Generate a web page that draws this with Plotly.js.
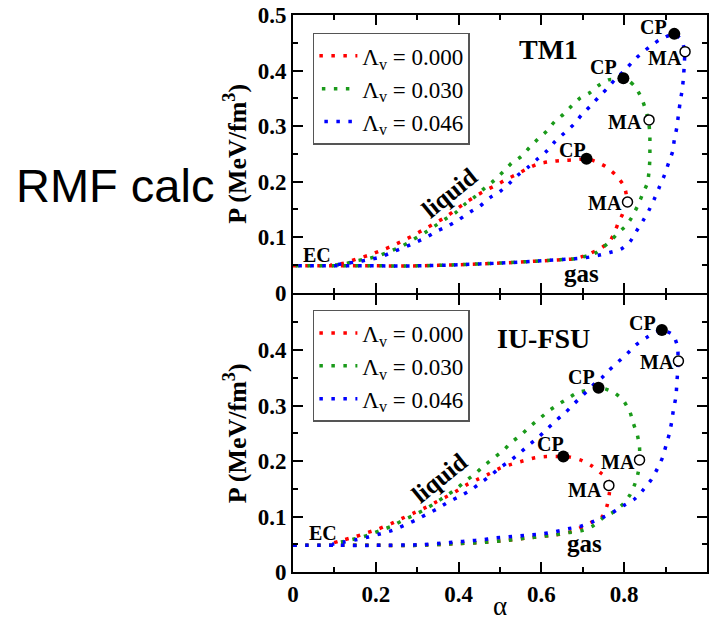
<!DOCTYPE html>
<html><head><meta charset="utf-8">
<script src="https://cdn.plot.ly/plotly-3.0.1.min.js"></script>
<style>html,body{margin:0;padding:0;background:#fff}#chart{width:710px;height:621px}</style>
</head><body><div id="chart"></div>
<script>
// ---- TM1 (top panel) ----
const tm1_a0_x = [0,0.1,0.2,0.3,0.4,0.5,0.6,0.68,0.70,0.717,0.746,0.766,0.778,0.786,0.796,0.803,0.806,0.803,0.798,0.779,0.755,0.731,0.709,0.681,0.651,0.622,0.593,0.568,0.543,0.516,0.492,0.468,0.444,0.417,0.393,0.369,0.343,0.317,0.291,0.265,0.237,0.210,0.182,0.152,0.123,0.09];
const tm1_a0_y = [0.048,0.048,0.048,0.048,0.050,0.053,0.057,0.061,0.065,0.070,0.081,0.093,0.111,0.126,0.141,0.155,0.170,0.184,0.194,0.212,0.227,0.236,0.241,0.239,0.238,0.236,0.232,0.224,0.214,0.204,0.194,0.185,0.175,0.162,0.149,0.136,0.125,0.114,0.103,0.093,0.083,0.075,0.067,0.060,0.053,0.049];
const tm1_a1_x = [0,0.1,0.2,0.3,0.4,0.5,0.6,0.68,0.71,0.733,0.750,0.767,0.786,0.804,0.818,0.833,0.846,0.856,0.860,0.862,0.862,0.862,0.860,0.857,0.852,0.841,0.826,0.812,0.798,0.779,0.762,0.738,0.717,0.693,0.673,0.653,0.632,0.613,0.591,0.571,0.551,0.528,0.508,0.486,0.464,0.440,0.415,0.393,0.367,0.343,0.319,0.292,0.265,0.237,0.210,0.182,0.152,0.123,0.09];
const tm1_a1_y = [0.048,0.048,0.048,0.048,0.050,0.053,0.057,0.061,0.066,0.072,0.082,0.093,0.108,0.120,0.135,0.157,0.180,0.197,0.218,0.241,0.263,0.284,0.302,0.315,0.329,0.352,0.371,0.381,0.386,0.384,0.383,0.373,0.360,0.350,0.336,0.321,0.308,0.291,0.276,0.261,0.245,0.233,0.218,0.202,0.189,0.173,0.159,0.144,0.132,0.120,0.108,0.096,0.084,0.075,0.067,0.061,0.057,0.051,0.049];
const tm1_a2_x = [0,0.1,0.2,0.3,0.4,0.5,0.6,0.68,0.709,0.738,0.765,0.792,0.814,0.830,0.846,0.861,0.873,0.885,0.897,0.907,0.917,0.921,0.927,0.931,0.935,0.940,0.943,0.945,0.946,0.940,0.921,0.885,0.860,0.837,0.818,0.798,0.777,0.758,0.737,0.717,0.697,0.677,0.655,0.633,0.613,0.591,0.568,0.544,0.523,0.500,0.476,0.452,0.428,0.402,0.375,0.349,0.321,0.295,0.268,0.240,0.212,0.182,0.152,0.123,0.09];
const tm1_a2_y = [0.048,0.048,0.048,0.048,0.050,0.053,0.057,0.061,0.063,0.067,0.072,0.078,0.0915,0.111,0.130,0.150,0.169,0.190,0.211,0.233,0.254,0.275,0.297,0.320,0.342,0.365,0.386,0.409,0.432,0.453,0.466,0.455,0.442,0.428,0.414,0.398,0.383,0.367,0.351,0.335,0.320,0.302,0.287,0.272,0.255,0.241,0.226,0.212,0.197,0.182,0.171,0.156,0.145,0.132,0.120,0.111,0.099,0.090,0.081,0.073,0.064,0.059,0.055,0.052,0.049];
const tm1_cp_x = [0.709,0.798,0.921];
const tm1_cp_y = [0.241,0.386,0.466];
const tm1_ma_x = [0.808,0.860,0.947];
const tm1_ma_y = [0.163,0.311,0.434];

// ---- IU-FSU (bottom panel) ----
const iu_a0_x = [0,0.1,0.2,0.3,0.394,0.456,0.516,0.575,0.635,0.665,0.689,0.722,0.746,0.758,0.764,0.765,0.760,0.746,0.722,0.694,0.669,0.653,0.613,0.585,0.555,0.527,0.500,0.474,0.446,0.419,0.393,0.369,0.343,0.317,0.291,0.262,0.237,0.208,0.180,0.152,0.123,0.095];
const iu_a0_y = [0.048,0.048,0.048,0.048,0.051,0.053,0.057,0.062,0.067,0.071,0.078,0.090,0.099,0.118,0.141,0.156,0.168,0.177,0.191,0.202,0.207,0.208,0.208,0.206,0.200,0.194,0.187,0.177,0.167,0.157,0.145,0.135,0.125,0.115,0.106,0.096,0.087,0.078,0.071,0.064,0.058,0.052];
const iu_a1_x = [0,0.1,0.2,0.3,0.394,0.456,0.516,0.575,0.635,0.665,0.695,0.722,0.746,0.774,0.798,0.814,0.826,0.834,0.837,0.837,0.832,0.822,0.814,0.798,0.778,0.754,0.738,0.711,0.689,0.665,0.641,0.619,0.595,0.572,0.551,0.528,0.508,0.484,0.462,0.440,0.417,0.393,0.369,0.343,0.317,0.291,0.262,0.237,0.208,0.180,0.152,0.123,0.095];
const iu_a1_y = [0.048,0.048,0.048,0.048,0.051,0.053,0.057,0.062,0.067,0.071,0.074,0.082,0.096,0.108,0.123,0.139,0.159,0.180,0.202,0.225,0.246,0.268,0.288,0.309,0.322,0.330,0.332,0.327,0.324,0.313,0.302,0.291,0.276,0.262,0.247,0.234,0.219,0.205,0.192,0.177,0.164,0.149,0.137,0.124,0.112,0.102,0.092,0.082,0.074,0.066,0.060,0.055,0.051];
const iu_a2_x = [0,0.1,0.2,0.3,0.363,0.393,0.425,0.456,0.484,0.514,0.544,0.575,0.605,0.635,0.665,0.693,0.722,0.750,0.774,0.799,0.826,0.846,0.866,0.880,0.893,0.901,0.909,0.915,0.919,0.925,0.927,0.929,0.930,0.929,0.918,0.891,0.853,0.828,0.808,0.786,0.764,0.746,0.724,0.701,0.680,0.659,0.637,0.614,0.593,0.570,0.547,0.524,0.500,0.476,0.452,0.428,0.402,0.375,0.349,0.323,0.295,0.268,0.240,0.212,0.182,0.152,0.123,0.095];
const iu_a2_y = [0.048,0.048,0.048,0.049,0.052,0.054,0.056,0.058,0.061,0.063,0.065,0.067,0.069,0.073,0.078,0.082,0.090,0.099,0.108,0.120,0.132,0.148,0.167,0.186,0.207,0.228,0.249,0.272,0.293,0.316,0.339,0.360,0.380,0.405,0.427,0.436,0.422,0.409,0.394,0.379,0.364,0.350,0.336,0.319,0.304,0.288,0.274,0.258,0.243,0.229,0.214,0.200,0.188,0.173,0.160,0.147,0.136,0.126,0.114,0.104,0.093,0.084,0.075,0.069,0.063,0.058,0.054,0.050];
const iu_cp_x = [0.653,0.738,0.891];
const iu_cp_y = [0.208,0.332,0.436];
const iu_ma_x = [0.763,0.837,0.931];
const iu_ma_y = [0.156,0.202,0.380];

const seriesNames = ['Λ<sub>v</sub> = 0.000','Λ<sub>v</sub> = 0.030','Λ<sub>v</sub> = 0.046'];
const colors = ['#ff0000','#1a9a1a','#0000ff'];
const topDash = ['3.5px,8.5px','0px,2.5px,3.5px,6px','0px,5px,3.5px,3.5px'];
const botDash = ['3.5px,8.5px','3.5px,8.5px','3.5px,8.5px'];

const SERIF = 'Liberation Serif, Times New Roman, serif';
const traces = [];
const tmX = [tm1_a0_x, tm1_a1_x, tm1_a2_x], tmY = [tm1_a0_y, tm1_a1_y, tm1_a2_y];
const iuX = [iu_a0_x, iu_a1_x, iu_a2_x], iuY = [iu_a0_y, iu_a1_y, iu_a2_y];
for (let i = 0; i < 3; i++) {
  traces.push({x: tmX[i], y: tmY[i], xaxis: 'x', yaxis: 'y', mode: 'lines', name: seriesNames[i],
    line: {color: colors[i], width: 3.5, dash: topDash[i], shape: 'spline', smoothing: 0.6}, legend: 'legend'});
}
for (let i = 0; i < 3; i++) {
  traces.push({x: iuX[i], y: iuY[i], xaxis: 'x2', yaxis: 'y2', mode: 'lines', name: seriesNames[i],
    line: {color: colors[i], width: 3.5, dash: botDash[i], shape: 'spline', smoothing: 0.6}, legend: 'legend2'});
}
traces.push({x: tm1_cp_x, y: tm1_cp_y, xaxis: 'x', yaxis: 'y', mode: 'markers', showlegend: false, marker: {color: '#000', size: 12}});
traces.push({x: tm1_ma_x, y: tm1_ma_y, xaxis: 'x', yaxis: 'y', mode: 'markers', showlegend: false, marker: {color: '#fff', size: 10, line: {color: '#000', width: 1.5}}});
traces.push({x: iu_cp_x, y: iu_cp_y, xaxis: 'x2', yaxis: 'y2', mode: 'markers', showlegend: false, marker: {color: '#000', size: 12}});
traces.push({x: iu_ma_x, y: iu_ma_y, xaxis: 'x2', yaxis: 'y2', mode: 'markers', showlegend: false, marker: {color: '#fff', size: 10, line: {color: '#000', width: 1.5}}});

const axCommon = {showline: true, linecolor: '#000', linewidth: 2, mirror: 'ticks', ticks: 'inside',
  ticklen: 10, tickwidth: 2, tickcolor: '#000', showgrid: false, zeroline: false,
  tickfont: {family: SERIF, size: 23, color: '#000', weight: 'bold'}};
const xMinor = {ticks: 'inside', dtick: 0.1, ticklen: 5, tickwidth: 2, tickcolor: '#000', showgrid: false};
const yMinor = {ticks: 'inside', dtick: 0.05, ticklen: 5, tickwidth: 2, tickcolor: '#000', showgrid: false};
const ytitle = {text: 'P (MeV/fm<sup>3</sup>)', font: {family: SERIF, size: 26, color: '#000', weight: 'bold'}, standoff: 4};

function ann(text, x, y, xr, yr, size, extra) {
  return Object.assign({text: text, x: x, y: y, xref: xr, yref: yr, showarrow: false,
    font: {family: SERIF, size: size, color: '#000', weight: 'bold'}}, extra || {});
}

const gap = 1 / 557;
const layout = {
  width: 710, height: 621, margin: {l: 293, r: 3, t: 15, b: 49},
  paper_bgcolor: '#fff', plot_bgcolor: '#fff', showlegend: true,
  xaxis: Object.assign({}, axCommon, {domain: [0, 1], anchor: 'y', range: [0, 1], dtick: 0.2, showticklabels: false, minor: xMinor}),
  yaxis: Object.assign({}, axCommon, {domain: [0.5 + gap, 1], anchor: 'x', range: [0, 0.5], dtick: 0.1, minor: yMinor, title: ytitle}),
  xaxis2: Object.assign({}, axCommon, {domain: [0, 1], anchor: 'y2', range: [0, 1], dtick: 0.2, minor: xMinor,
    title: {text: 'α', font: {family: SERIF, size: 27, color: '#000'}, standoff: 2}}),
  yaxis2: Object.assign({}, axCommon, {domain: [0, 0.5 - gap], anchor: 'x2', range: [0, 0.5], tickmode: 'array',
    tickvals: [0, 0.1, 0.2, 0.3, 0.4], ticktext: ['0', '0.1', '0.2', '0.3', '0.4'], minor: yMinor, title: ytitle}),
  legend: {x: 0.048, y: 0.968, xanchor: 'left', yanchor: 'top', bgcolor: '#fff', bordercolor: '#555', borderwidth: 1.5,
    itemwidth: 38, font: {family: SERIF, size: 23, color: '#000'}},
  legend2: {x: 0.048, y: 0.4705, xanchor: 'left', yanchor: 'top', bgcolor: '#fff', bordercolor: '#555', borderwidth: 1.5,
    itemwidth: 38, font: {family: SERIF, size: 23, color: '#000'}},
  annotations: [
    ann('TM1', 0.616, 0.437, 'x', 'y', 28),
    ann('CP', 0.676, 0.257, 'x', 'y', 20), ann('CP', 0.749, 0.406, 'x', 'y', 20), ann('CP', 0.870, 0.478, 'x', 'y', 20),
    ann('MA', 0.754, 0.162, 'x', 'y', 20), ann('MA', 0.802, 0.308, 'x', 'y', 20), ann('MA', 0.899, 0.422, 'x', 'y', 20),
    ann('liquid', 0.379, 0.180, 'x', 'y', 25, {textangle: -39}),
    ann('EC', 0.058, 0.067, 'x', 'y', 20),
    ann('gas', 0.698, 0.034, 'x', 'y', 25),
    ann('IU-FSU', 0.606, 0.420, 'x2', 'y2', 28),
    ann('CP', 0.621, 0.230, 'x2', 'y2', 20), ann('CP', 0.698, 0.352, 'x2', 'y2', 20), ann('CP', 0.845, 0.449, 'x2', 'y2', 20),
    ann('MA', 0.705, 0.147, 'x2', 'y2', 20), ann('MA', 0.785, 0.199, 'x2', 'y2', 20), ann('MA', 0.879, 0.379, 'x2', 'y2', 20),
    ann('liquid', 0.355, 0.170, 'x2', 'y2', 25, {textangle: -39}),
    ann('EC', 0.072, 0.071, 'x2', 'y2', 20),
    ann('gas', 0.705, 0.051, 'x2', 'y2', 25),
    {text: 'RMF calc', xref: 'paper', yref: 'paper', x: -0.673, y: 0.693, xanchor: 'left', yanchor: 'middle', showarrow: false,
      font: {family: 'Liberation Sans, Arial, sans-serif', size: 47, color: '#000'}}
  ]
};

Plotly.newPlot('chart', traces, layout, {staticPlot: true, displayModeBar: false});
</script>
</body></html>
